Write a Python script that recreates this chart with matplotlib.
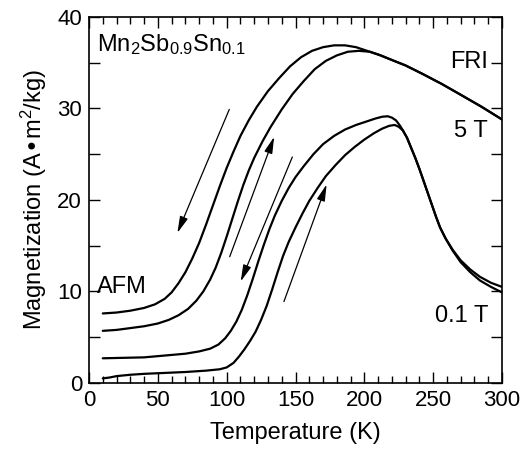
import matplotlib
matplotlib.use("Agg")
import matplotlib.pyplot as plt
from matplotlib.ticker import MultipleLocator

plt.rcParams['font.family'] = ['Liberation Sans', 'DejaVu Sans']
plt.rcParams['mathtext.default'] = 'regular'

# 5 T, cooling (upper branch)
t_5T_cool = [10, 20, 30, 40, 48, 55, 60, 65, 70, 75, 80, 85, 90, 95, 100, 105, 110, 116, 122, 130, 138,
             146, 154, 162, 170, 178, 186, 194, 202, 210, 220, 230, 242, 256, 270, 285, 300]
m_5T_cool = [7.6, 7.7, 7.9, 8.2, 8.6, 9.2, 9.9, 10.9, 12.1, 13.6, 15.3, 17.3, 19.4, 21.5, 23.5, 25.3,
             27.0, 28.7, 30.2, 31.9, 33.3, 34.6, 35.6, 36.3, 36.7, 36.9, 36.9, 36.7, 36.3, 35.9, 35.3,
             34.7, 33.8, 32.7, 31.5, 30.2, 28.8]
# 5 T, warming
t_5T_warm = [10, 20, 30, 40, 50, 58, 65, 72, 78, 83, 88, 92, 96, 100, 104, 108, 112, 116, 120, 126, 132,
             140, 148, 156, 164, 172, 180, 188, 196, 204, 212, 220, 230, 242, 256, 270, 285, 300]
m_5T_warm = [5.7, 5.8, 6.0, 6.2, 6.5, 6.9, 7.4, 8.1, 9.0, 10.0, 11.3, 12.6, 14.2, 16.0, 17.9, 19.8, 21.6,
             23.2, 24.6, 26.4, 28.0, 29.9, 31.6, 33.0, 34.3, 35.2, 35.8, 36.2, 36.3, 36.2, 35.8, 35.3,
             34.7, 33.8, 32.7, 31.5, 30.2, 28.8]
# 0.1 T, cooling
t_01T_cool = [10, 25, 40, 55, 70, 80, 88, 94, 99, 103, 107, 111, 115, 119, 123, 127, 131, 135, 140, 145,
              150, 156, 163, 170, 178, 186, 194, 202, 208, 213, 217, 220, 223, 226, 228, 231, 234, 237,
              240, 243, 246, 249, 252, 255, 259, 264, 270, 277, 284, 292, 300]
m_01T_cool = [2.7, 2.75, 2.8, 3.0, 3.2, 3.45, 3.75, 4.2, 4.9, 5.7, 6.7, 8.0, 9.6, 11.4, 13.3, 15.1, 16.8,
              18.3, 19.9, 21.3, 22.5, 23.7, 25.0, 26.1, 27.0, 27.7, 28.2, 28.6, 28.9, 29.1, 29.15, 29.0,
              28.7, 28.1, 27.6, 26.8, 25.7, 24.6, 23.4, 22.1, 20.8, 19.5, 18.2, 17.0, 15.8, 14.6, 13.4,
              12.4, 11.6, 10.95, 10.5]
# 0.1 T, warming
t_01T_warm = [10, 15, 20, 30, 40, 55, 70, 85, 95, 100, 105, 109, 113, 117, 121, 125, 129, 133, 137, 141,
              145, 150, 155, 160, 166, 172, 179, 186, 193, 200, 207, 213, 218, 222, 225, 228, 231, 234,
              237, 240, 243, 246, 249, 252, 255, 259, 264, 270, 277, 284, 292, 300]
m_01T_warm = [0.5, 0.6, 0.75, 0.9, 1.0, 1.1, 1.2, 1.35, 1.5, 1.7, 2.2, 2.9, 3.7, 4.6, 5.6, 6.9, 8.4, 10.2,
              12.1, 13.9, 15.4, 17.0, 18.5, 19.9, 21.3, 22.6, 23.8, 24.9, 25.8, 26.6, 27.3, 27.8, 28.1,
              28.2, 28.0, 27.6, 26.8, 25.7, 24.6, 23.4, 22.1, 20.8, 19.5, 18.2, 17.0, 15.8, 14.5, 13.2,
              12.1, 11.2, 10.5, 9.9]

# arrows: (start T, start M) -> (end T, end M)
arrow_starts = [(101.9, 29.9), (102.2, 13.8), (147.7, 24.7), (141.6, 8.9)]
arrow_ends = [(64.2, 16.4), (134.5, 26.9), (110.2, 11.1), (172.6, 21.7)]

x_ticks = [0, 50, 100, 150, 200, 250, 300]
y_ticks = [0, 10, 20, 30, 40]

fig = plt.figure(figsize=(5.22, 4.59), dpi=100)
ax = fig.add_axes([0.1705, 0.1656, 0.7912, 0.7974])

for t, m in [(t_5T_cool, m_5T_cool), (t_5T_warm, m_5T_warm),
             (t_01T_cool, m_01T_cool), (t_01T_warm, m_01T_warm)]:
    ax.plot(t, m, color='black', lw=1.6, solid_joinstyle='round', solid_capstyle='round')

for s, e in zip(arrow_starts, arrow_ends):
    ax.annotate('', xy=e, xytext=s,
                arrowprops=dict(arrowstyle='-|>,head_length=1.0,head_width=0.25',
                                color='black', lw=0.9, shrinkA=0, shrinkB=0))

ax.set_xlim(0, 300)
ax.set_ylim(0, 40)
ax.set_xticks(x_ticks)
ax.set_yticks(y_ticks)
ax.xaxis.set_minor_locator(MultipleLocator(10))
ax.yaxis.set_minor_locator(MultipleLocator(5))
ax.tick_params(which='both', direction='in', top=True, right=True, labelsize=16, width=1, color='black')
ax.tick_params(which='major', length=8, pad=5)
ax.tick_params(axis='x', which='minor', length=5)
ax.tick_params(axis='y', which='minor', length=8)
for sp in ax.spines.values():
    sp.set_linewidth(1.2)

ax.set_xlabel('Temperature (K)', fontsize=17, labelpad=8)
ax.set_ylabel('Magnetization (A•m$^2$/kg)', fontsize=17, labelpad=6)

ax.text(6, 37.0, 'Mn$_2$Sb$_{0.9}$Sn$_{0.1}$', fontsize=17, ha='left', va='center')
ax.text(290, 35.1, 'FRI', fontsize=17, ha='right', va='center')
ax.text(290, 27.5, '5 T', fontsize=17, ha='right', va='center')
ax.text(290, 7.3, '0.1 T', fontsize=17, ha='right', va='center')
ax.text(6, 10.5, 'AFM', fontsize=17, ha='left', va='center')

fig.savefig('out.png', dpi=100)
